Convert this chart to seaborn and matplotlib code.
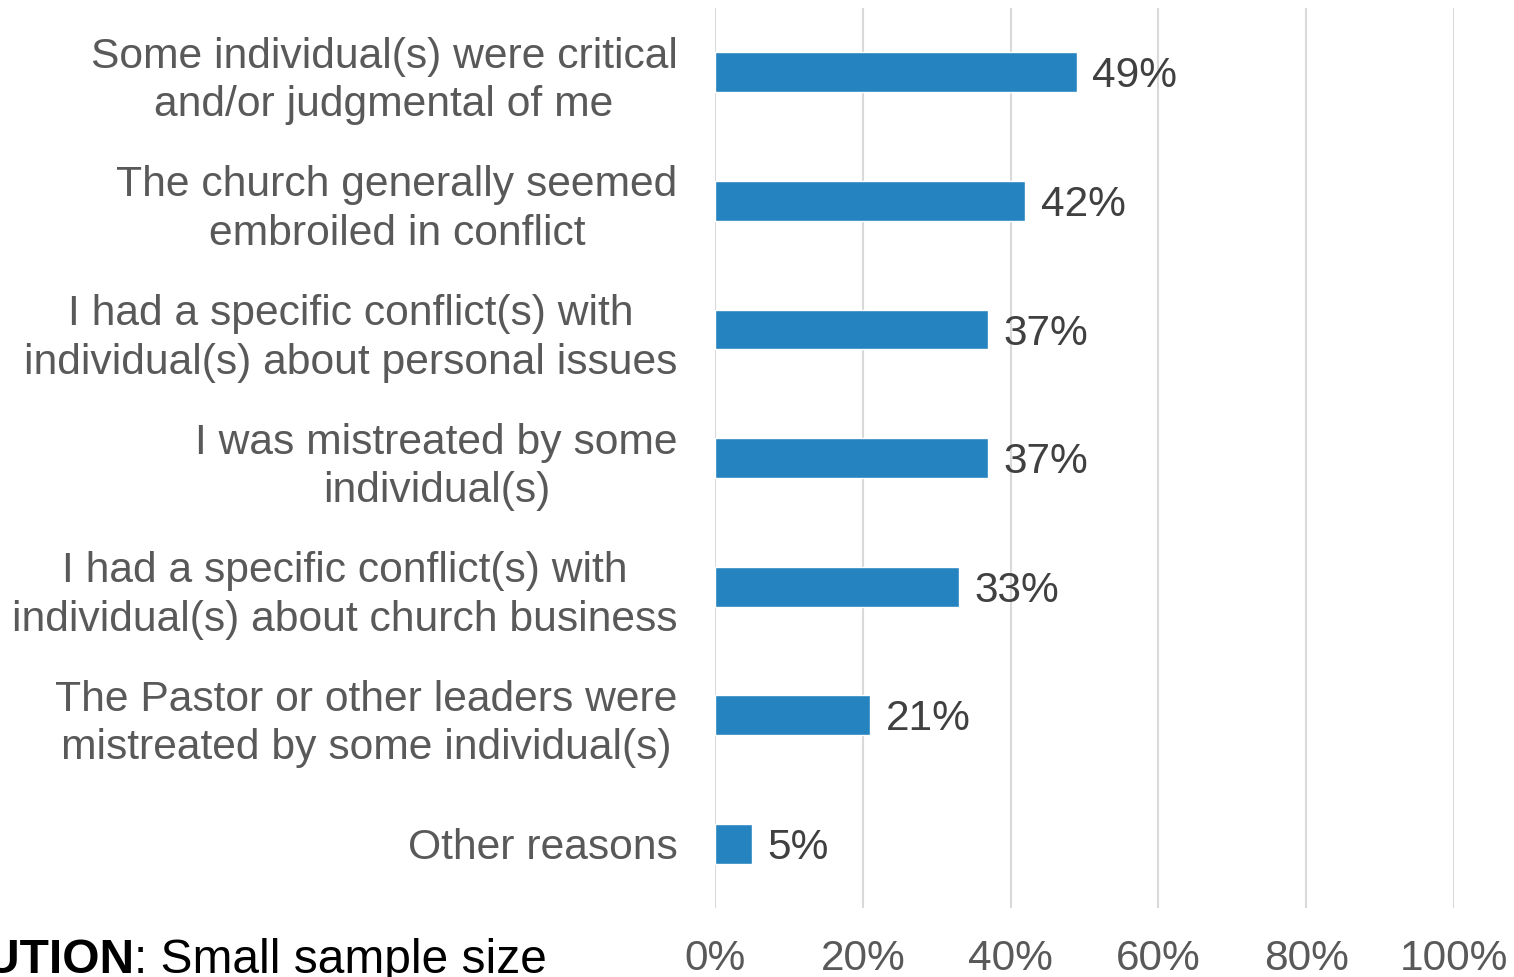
import pandas as pd
import seaborn as sns
import matplotlib.pyplot as plt

reasons = ["Some individual(s) were critical\nand/or judgmental of me",
           "The church generally seemed\nembroiled in conflict",
           "I had a specific conflict(s) with\nindividual(s) about personal issues",
           "I was mistreated by some\nindividual(s)",
           "I had a specific conflict(s) with\nindividual(s) about church business",
           "The Pastor or other leaders were\nmistreated by some individual(s)",
           "Other reasons"]
pct = [49, 42, 37, 37, 33, 21, 5]
xticks = [0, 20, 40, 60, 80, 100]

df = pd.DataFrame({'reason': reasons, 'pct': pct})

sns.set_style("white")
plt.rcParams['font.family'] = ['Liberation Sans', 'DejaVu Sans']

fig = plt.figure(figsize=(15.14, 9.77), dpi=100)
ax = fig.add_axes([0.4723, 0.0706, 0.4881, 0.9212])

sns.barplot(data=df, y='reason', x='pct', orient='h', color='#2584C0',
            width=0.31, saturation=1, ax=ax)

ax.set_xlim(0, 100)
ax.set_ylim(6.5, -0.5)
ax.set_xticks(xticks)
ax.set_xticklabels([f"{t}%" for t in xticks])
ax.xaxis.grid(True, color='#D9D9D9', linewidth=1.5)
ax.set_axisbelow(True)
for s in ax.spines.values():
    s.set_visible(False)
ax.set_xlabel('')
ax.set_ylabel('')
ax.tick_params(axis='x', length=0, pad=22, labelsize=30.5, labelcolor='#595959')
ax.tick_params(axis='y', length=0, pad=27, labelsize=30.7, labelcolor='#595959')
for t in ax.get_yticklabels():
    t.set_multialignment('center')
    t.set_linespacing(1.28)

# value labels to the right of each bar
for i, v in enumerate(pct):
    ax.annotate(f"{v}%", xy=(v, i), xytext=(11, -3), textcoords='offset points',
                ha='left', va='center', fontsize=30.5, color='#404040')

fig.text(134/1514, 0.004, "CAUTION", ha='right', va='baseline',
         fontsize=34.5, fontweight='bold', color='black')
fig.text(134/1514, 0.004, ": Small sample size", ha='left', va='baseline',
         fontsize=34.5, color='black')

fig.savefig('out.png', dpi=100)
